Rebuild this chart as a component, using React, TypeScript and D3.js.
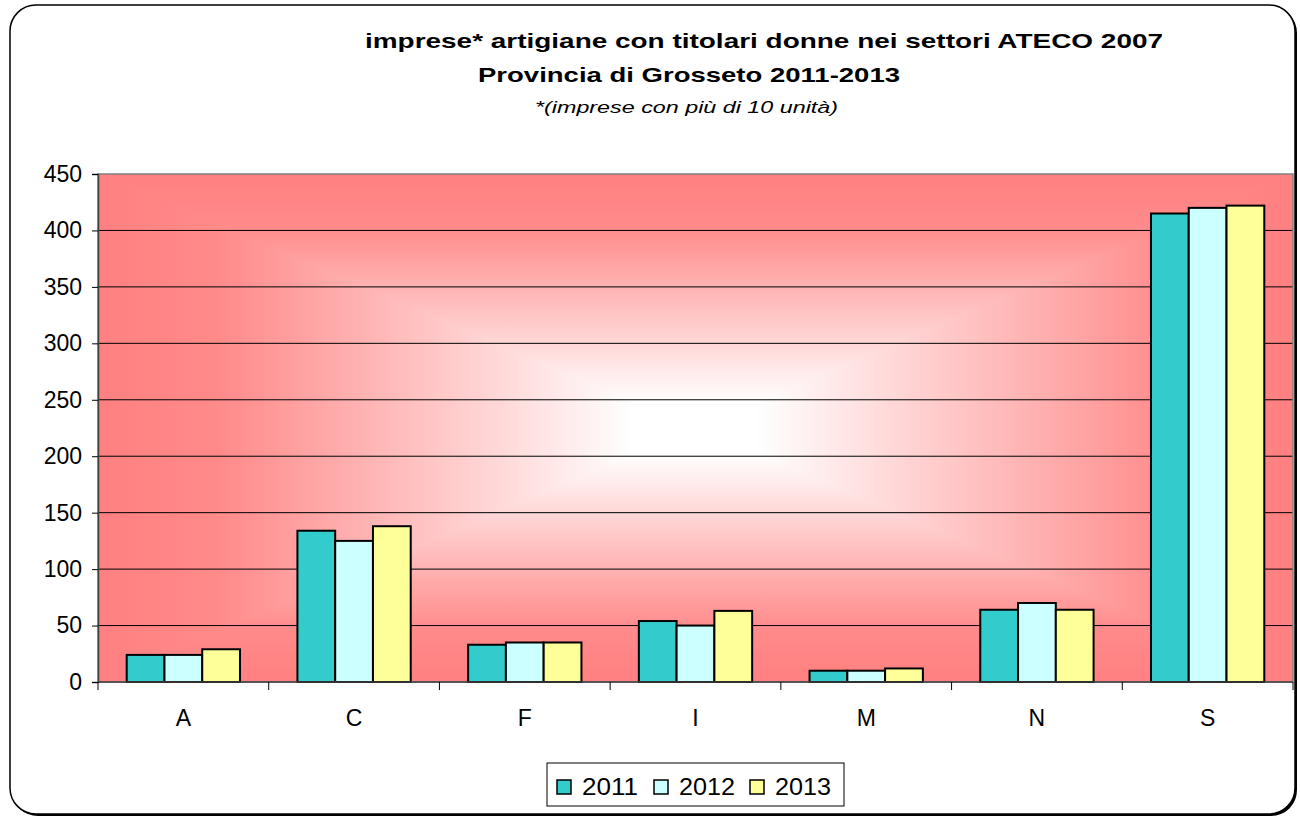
import React, { useEffect, useRef } from 'react';
import * as d3 from 'd3';

// Settori ATECO 2007
const categories = ['A', 'C', 'F', 'I', 'M', 'N', 'S'];
const years = ['2011', '2012', '2013'];

// numero imprese per anno
const values2011 = [24, 134, 33, 54, 10, 64, 415];
const values2012 = [24, 125, 35, 50, 10, 70, 420];
const values2013 = [29, 138, 35, 63, 12, 64, 422];

const yTicks = [0, 50, 100, 150, 200, 250, 300, 350, 400, 450];
const yearColors = ['#33CCCC', '#CCFFFF', '#FFFF99'];

const titleLine1 = 'imprese* artigiane con titolari donne nei settori ATECO 2007';
const titleLine2 = 'Provincia di Grosseto 2011-2013';
const subtitle = '*(imprese con più di 10 unità)';

const FONT = '"Liberation Sans", Arial, sans-serif';

const App = () => {
    const svgRef = useRef<SVGSVGElement | null>(null);

    useEffect(() => {
        const width = 1300;
        const height = 817;
        const svg = d3.select(svgRef.current);
        svg.selectAll('*').remove();
        svg.attr('width', width).attr('height', height);

        const series = [values2011, values2012, values2013];
        const plot = { left: 98, top: 174, right: 1293, bottom: 682 };

        // outer frame with shadow
        svg.append('rect')
            .attr('x', 12).attr('y', 7)
            .attr('width', 1285).attr('height', 809)
            .attr('rx', 26)
            .attr('fill', '#000');
        svg.append('rect')
            .attr('x', 10).attr('y', 5)
            .attr('width', 1285).attr('height', 809)
            .attr('rx', 26)
            .attr('fill', '#fff')
            .attr('stroke', '#000')
            .attr('stroke-width', 1.5);

        // Titles (glyphs stretched like the original rendering)
        svg.append('text')
            .attr('x', 365).attr('y', 48)
            .attr('textLength', 798).attr('lengthAdjust', 'spacingAndGlyphs')
            .style('font-family', FONT).style('font-size', '21px').style('font-weight', 'bold')
            .text(titleLine1);
        svg.append('text')
            .attr('x', 478).attr('y', 82)
            .attr('textLength', 422).attr('lengthAdjust', 'spacingAndGlyphs')
            .style('font-family', FONT).style('font-size', '21px').style('font-weight', 'bold')
            .text(titleLine2);
        svg.append('text')
            .attr('x', 535).attr('y', 113)
            .attr('textLength', 303).attr('lengthAdjust', 'spacingAndGlyphs')
            .style('font-family', FONT).style('font-size', '17px').style('font-style', 'italic')
            .text(subtitle);

        // Scales
        const x0 = d3.scaleBand<string>()
            .domain(categories)
            .range([plot.left, plot.right]);
        const x1 = d3.scaleBand<string>()
            .domain(years)
            .range([0, x0.bandwidth()])
            .paddingOuter(0.76);
        const y = d3.scaleLinear()
            .domain([0, 450])
            .range([plot.bottom, plot.top]);

        // Background gradient (rectangular, from center)
        const defs = svg.append('defs');
        const stops = [
            { offset: '0%', color: '#FF8080' },
            { offset: '10%', color: '#FF8A8A' },
            { offset: '30%', color: '#FFCCCC' },
            { offset: '45%', color: '#FFFFFF' },
            { offset: '55%', color: '#FFFFFF' },
            { offset: '70%', color: '#FFCCCC' },
            { offset: '90%', color: '#FF8A8A' },
            { offset: '100%', color: '#FF8080' }
        ];
        const gh = defs.append('linearGradient').attr('id', 'bg-h')
            .attr('x1', '0').attr('y1', '0').attr('x2', '1').attr('y2', '0');
        gh.selectAll('stop').data(stops).enter().append('stop')
            .attr('offset', d => d.offset).attr('stop-color', d => d.color);
        const gv = defs.append('linearGradient').attr('id', 'bg-v')
            .attr('x1', '0').attr('y1', '0').attr('x2', '0').attr('y2', '1');
        gv.selectAll('stop').data(stops).enter().append('stop')
            .attr('offset', d => d.offset).attr('stop-color', d => d.color);

        const bg = svg.append('g').style('isolation', 'isolate');
        bg.append('rect')
            .attr('x', plot.left).attr('y', plot.top)
            .attr('width', plot.right - plot.left).attr('height', plot.bottom - plot.top)
            .attr('fill', 'url(#bg-h)');
        bg.append('rect')
            .attr('x', plot.left).attr('y', plot.top)
            .attr('width', plot.right - plot.left).attr('height', plot.bottom - plot.top)
            .attr('fill', 'url(#bg-v)')
            .style('mix-blend-mode', 'darken');

        // Gridlines
        svg.append('g')
            .selectAll('line')
            .data(yTicks.filter(t => t > 0 && t < 450))
            .enter().append('line')
            .attr('x1', plot.left).attr('x2', plot.right)
            .attr('y1', d => y(d)).attr('y2', d => y(d))
            .attr('stroke', '#000').attr('stroke-width', 1);

        // plot border
        svg.append('rect')
            .attr('x', plot.left).attr('y', plot.top)
            .attr('width', plot.right - plot.left).attr('height', plot.bottom - plot.top)
            .attr('fill', 'none')
            .attr('stroke', '#808080').attr('stroke-width', 1.5);

        // Bars
        categories.forEach((cat, ci) => {
            years.forEach((yr, si) => {
                const v = series[si][ci];
                svg.append('rect')
                    .attr('x', (x0(cat) as number) + (x1(yr) as number))
                    .attr('y', y(v))
                    .attr('width', x1.bandwidth())
                    .attr('height', y(0) - y(v))
                    .attr('fill', yearColors[si])
                    .attr('stroke', '#000')
                    .attr('stroke-width', 2);
            });
        });

        // Y axis
        const yAxis = d3.axisLeft(y).tickValues(yTicks).tickSize(6).tickPadding(10);
        const yG = svg.append('g')
            .attr('transform', `translate(${plot.left},0)`)
            .call(yAxis);
        yG.select('.domain').attr('stroke', '#404040').attr('stroke-width', 1.5);
        yG.selectAll('.tick line').attr('stroke', '#000');
        yG.selectAll('.tick text')
            .style('font-family', FONT).style('font-size', '23px').attr('fill', '#000');

        // X axis
        const xG = svg.append('g')
            .attr('transform', `translate(0,${plot.bottom})`);
        xG.append('line')
            .attr('x1', plot.left).attr('x2', plot.right)
            .attr('stroke', '#404040').attr('stroke-width', 1.5);
        xG.selectAll('line.tk')
            .data([...categories.map(c => x0(c) as number), plot.right])
            .enter().append('line')
            .attr('class', 'tk')
            .attr('x1', d => d).attr('x2', d => d)
            .attr('y1', 0).attr('y2', 8)
            .attr('stroke', '#000');
        xG.selectAll('text')
            .data(categories)
            .enter().append('text')
            .attr('x', d => (x0(d) as number) + x0.bandwidth() / 2)
            .attr('y', 44)
            .attr('text-anchor', 'middle')
            .style('font-family', FONT).style('font-size', '23px')
            .text(d => d);

        // Legend
        const legend = svg.append('g');
        legend.append('rect')
            .attr('x', 547).attr('y', 763)
            .attr('width', 297).attr('height', 43)
            .attr('fill', '#fff')
            .attr('stroke', '#000').attr('stroke-width', 1);
        const legendX = [557, 654, 750];
        years.forEach((yr, i) => {
            legend.append('rect')
                .attr('x', legendX[i]).attr('y', 780)
                .attr('width', 14).attr('height', 14)
                .attr('fill', yearColors[i])
                .attr('stroke', '#000').attr('stroke-width', 1.5);
            legend.append('text')
                .attr('x', legendX[i] + 25).attr('y', 795)
                .attr('textLength', 56).attr('lengthAdjust', 'spacingAndGlyphs')
                .style('font-family', FONT).style('font-size', '23px')
                .text(yr);
        });
    }, []);

    return <svg ref={svgRef} style={{ display: 'block', position: 'absolute', left: 0, top: 0 }}></svg>;
};

export default App;
